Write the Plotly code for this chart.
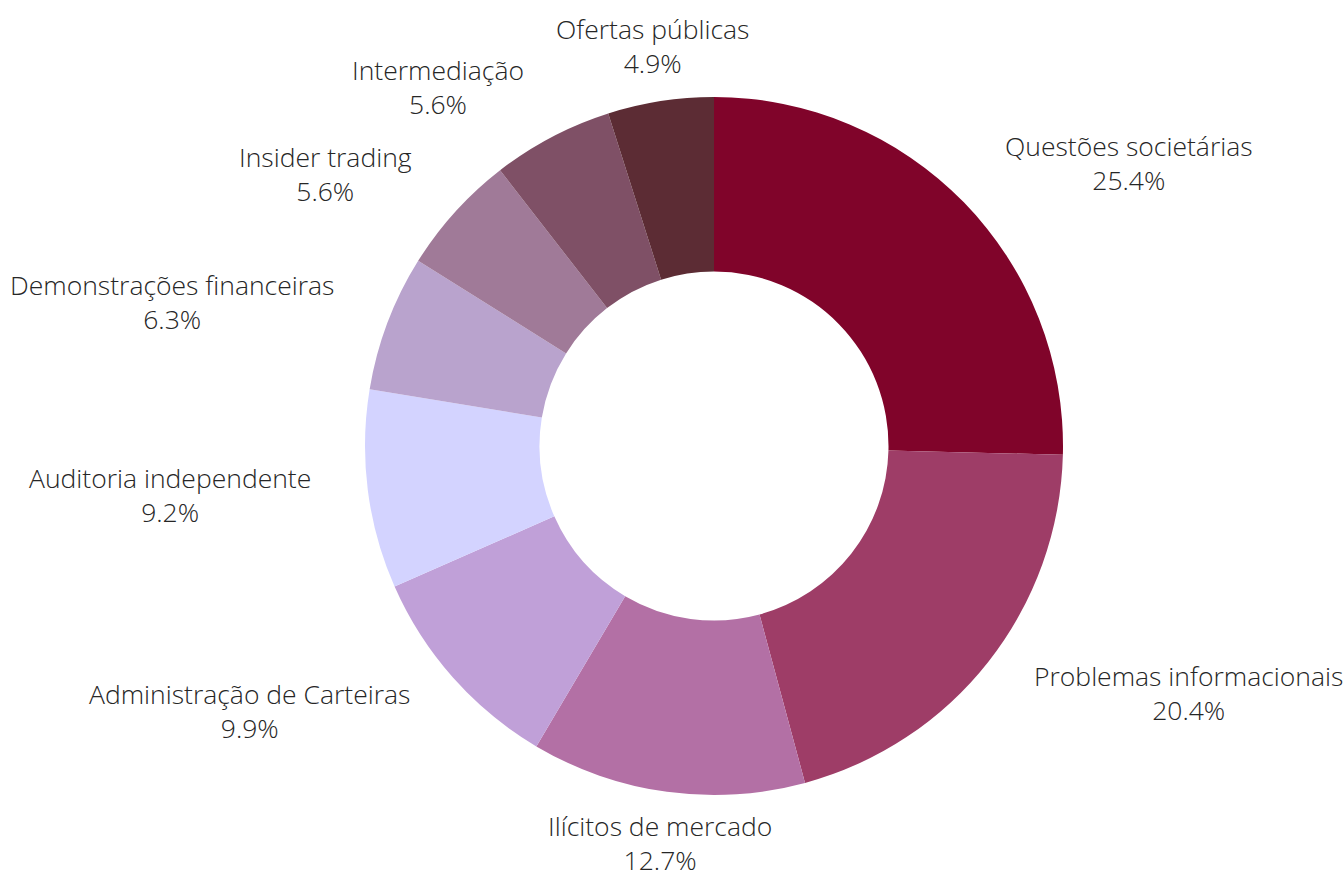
import math
import plotly.graph_objects as go

# Categories of complaints and their shares (%)
categorias = [
    "Questões societárias",
    "Problemas informacionais",
    "Ilícitos de mercado",
    "Administração de Carteiras",
    "Auditoria independente",
    "Demonstrações financeiras",
    "Insider trading",
    "Intermediação",
    "Ofertas públicas",
]
percentuais = [25.4, 20.4, 12.7, 9.9, 9.2, 6.3, 5.6, 5.6, 4.9]
cores = [
    "#80042A", "#9E3D67", "#B370A5", "#C0A0D8", "#D3D3FF",
    "#B9A3CD", "#A07A98", "#7F5066", "#5C2C34",
]

W, H = 1343, 870
CX, CY, R = 714, 446, 349          # donut centre and outer radius (px)
LABEL_RX, LABEL_RY = 404, 403      # ellipse where the outside labels sit
LABEL_CY = CY - 2

fig = go.Figure(
    go.Pie(
        labels=categorias,
        values=percentuais,
        hole=0.5,
        sort=False,
        direction="clockwise",
        rotation=0,
        marker=dict(colors=cores, line=dict(width=0)),
        textinfo="none",
        hoverinfo="label+percent",
        showlegend=False,
        domain=dict(
            x=[(CX - R) / W, (CX + R) / W],
            y=[(H - CY - R) / H, (H - CY + R) / H],
        ),
    )
)

# Outside labels, placed along each slice's mid angle
total = sum(percentuais)
acum = 0.0
anotacoes = []
for cat, v in zip(categorias, percentuais):
    meio = (acum + v / 2) / total * 2 * math.pi
    acum += v
    s, c = math.sin(meio), math.cos(meio)
    px = CX + LABEL_RX * s
    py = LABEL_CY - LABEL_RY * c
    if s > 0.3:
        xa = "left"
    elif s < -0.3:
        xa = "right"
    else:
        xa = "center"
    anotacoes.append(
        dict(
            x=px / W,
            y=1 - py / H,
            xref="paper",
            yref="paper",
            xanchor=xa,
            yanchor="middle",
            align="center",
            showarrow=False,
            text=f"{cat}<br>{v / total * 100:.1f}%",
            font=dict(family="Open Sans", size=26.5, color="#262626", weight=300),
        )
    )

fig.update_layout(
    width=W,
    height=H,
    margin=dict(l=0, r=0, t=0, b=0),
    paper_bgcolor="white",
    plot_bgcolor="white",
    annotations=anotacoes,
)

fig.write_html("out.html")
